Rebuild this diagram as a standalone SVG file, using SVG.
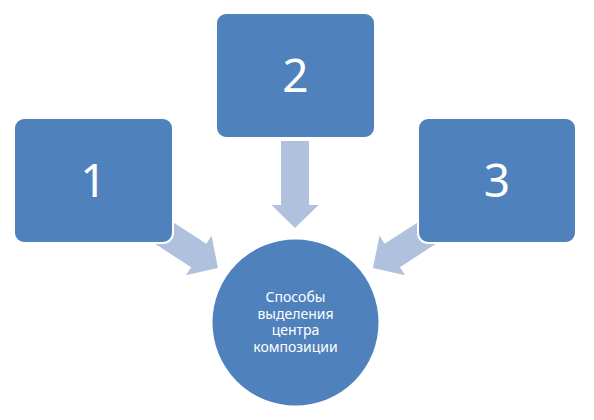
<svg xmlns="http://www.w3.org/2000/svg" width="594" height="420" viewBox="0 0 594 420">
<style>
.box{fill:#4F81BD;stroke:#fff;stroke-width:2}
.arr{fill:#B0C1DD}
.num{font-family:"Noto Sans","Open Sans",sans-serif;font-size:46px;fill:#fff;text-anchor:middle}
.lbl{font-family:"Noto Sans","Open Sans",sans-serif;font-size:14px;fill:#fff;text-anchor:middle}
</style>
<defs>
<path id="arrow" d="M-14,-87 L14,-87 L14,-23 L23.5,-23 L0,0 L-23.5,-23 L-14,-23 Z"/>
</defs>
<rect width="594" height="420" fill="#fff"/>
<g id="connectors">
<use href="#arrow" class="arr" transform="translate(218,268) rotate(-57)"/>
<use href="#arrow" class="arr" transform="translate(295,228)"/>
<use href="#arrow" class="arr" transform="translate(373,268) rotate(57)"/>
</g>
<g id="node1">
<rect class="box" x="14" y="118" width="159" height="125" rx="10"/>
<text class="num" x="93.5" y="197">1</text>
</g>
<g id="node2">
<rect class="box" x="216" y="13" width="159" height="125" rx="10"/>
<text class="num" x="295.5" y="92">2</text>
</g>
<g id="node3">
<rect class="box" x="418" y="118" width="158" height="125" rx="10"/>
<text class="num" x="497" y="197">3</text>
</g>
<g id="center">
<circle cx="295.5" cy="322.5" r="84" fill="#4F81BD" stroke="#fff" stroke-width="2"/>
<text class="lbl"><tspan x="295.5" y="302">Способы</tspan><tspan x="295.5" y="318.5">выделения</tspan><tspan x="295.5" y="335">центра</tspan><tspan x="295.5" y="351.5">композиции</tspan></text>
</g>
</svg>
